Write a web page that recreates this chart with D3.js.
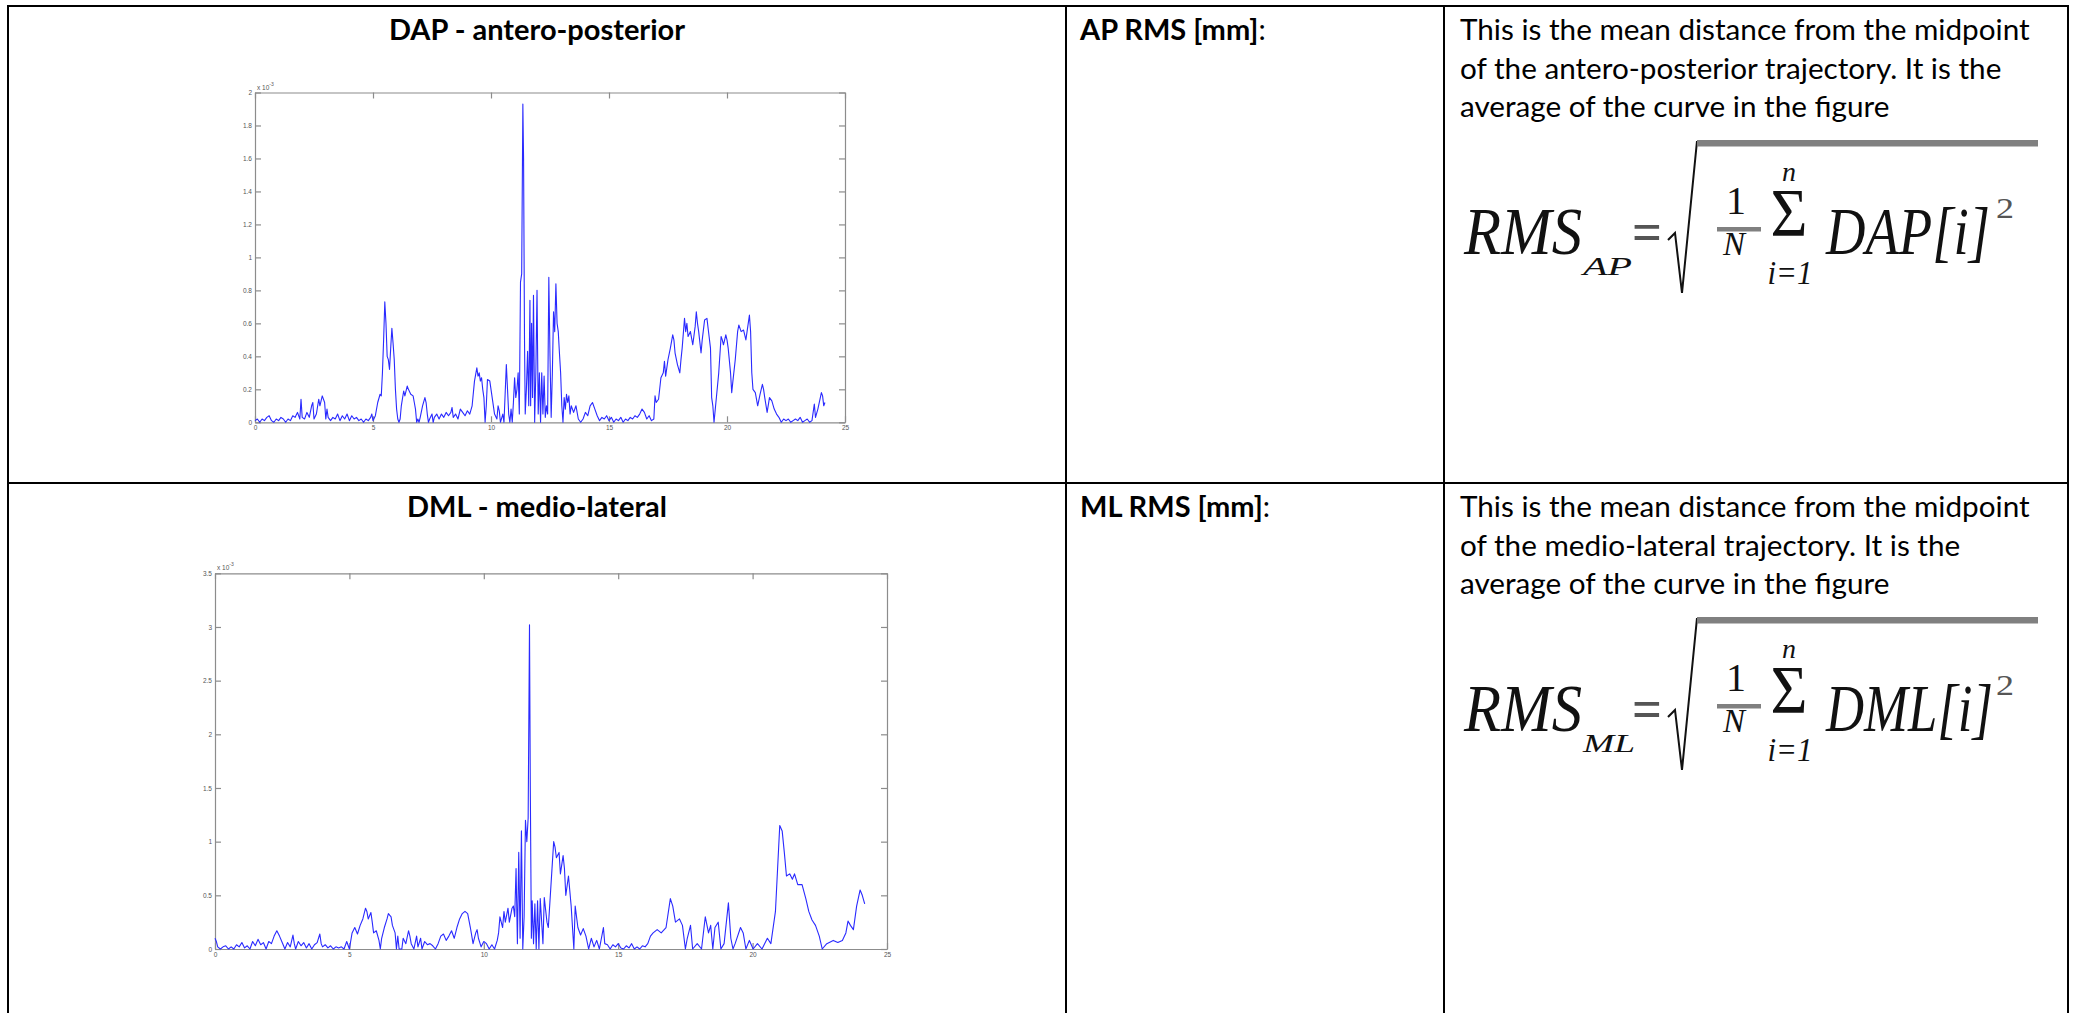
<!DOCTYPE html>
<html>
<head>
<meta charset="utf-8">
<script src="https://cdn.jsdelivr.net/npm/d3@7"></script>
<style>
  body { margin: 0; background: #fff; }
  svg { display: block; }
</style>
</head>
<body>
<svg id="page" width="2074" height="1013"></svg>
<script>
// ---- data, values in units of 10^-3 ----
var apTime = [0,0.1,0.2,0.3,0.4,0.5,0.6,0.7,0.8,0.9,1.0,1.1,1.2,1.3,1.4,1.5,1.6,1.7,1.8,1.9,1.95,2.0,2.1,2.2,2.3,2.4,2.45,2.5,2.6,2.7,2.75,2.85,2.95,3.0,3.05,3.1,3.2,3.3,3.4,3.5,3.6,3.7,3.8,3.9,4.0,4.1,4.2,4.3,4.4,4.5,4.6,4.7,4.8,4.9,4.95,5.0,5.1,5.2,5.3,5.35,5.4,5.45,5.5,5.55,5.6,5.65,5.7,5.75,5.8,5.85,5.9,5.95,6.0,6.05,6.1,6.15,6.2,6.3,6.35,6.45,6.5,6.6,6.7,6.75,6.8,6.85,6.9,6.95,7.0,7.1,7.2,7.25,7.3,7.35,7.4,7.5,7.55,7.6,7.7,7.8,7.9,8.0,8.1,8.2,8.3,8.35,8.4,8.5,8.6,8.7,8.8,8.9,9.0,9.1,9.2,9.3,9.4,9.45,9.5,9.55,9.6,9.65,9.7,9.75,9.8,9.85,9.95,10.05,10.15,10.25,10.3,10.35,10.4,10.5,10.55,10.65,10.7,10.75,10.8,10.85,10.9,10.95,11.0,11.05,11.1,11.15,11.2,11.25,11.3,11.35,11.38,11.42,11.45,11.5,11.55,11.6,11.65,11.68,11.72,11.76,11.8,11.85,11.9,11.95,12.0,12.05,12.1,12.15,12.2,12.25,12.3,12.35,12.4,12.45,12.5,12.55,12.6,12.65,12.7,12.75,12.8,12.85,12.9,12.95,13.0,13.05,13.1,13.15,13.2,13.25,13.3,13.35,13.4,13.5,13.6,13.7,13.8,13.9,14.0,14.1,14.2,14.3,14.4,14.5,14.6,14.7,14.8,14.9,15.0,15.1,15.2,15.3,15.4,15.5,15.6,15.7,15.8,15.9,16.0,16.1,16.2,16.3,16.4,16.5,16.6,16.7,16.8,16.9,16.95,17.0,17.1,17.2,17.3,17.35,17.4,17.5,17.6,17.7,17.75,17.8,17.9,18.0,18.05,18.1,18.2,18.25,18.3,18.35,18.45,18.55,18.65,18.7,18.75,18.8,18.9,18.95,19.05,19.15,19.2,19.3,19.35,19.4,19.45,19.55,19.65,19.75,19.8,19.85,19.95,20.0,20.05,20.15,20.2,20.25,20.35,20.45,20.5,20.6,20.7,20.8,20.85,20.95,21.0,21.05,21.1,21.2,21.3,21.4,21.5,21.55,21.6,21.7,21.8,21.9,22.0,22.1,22.2,22.3,22.4,22.5,22.6,22.7,22.8,22.9,23.0,23.1,23.2,23.3,23.4,23.5,23.6,23.7,23.75,23.85,24.0,24.05,24.1,24.15];
var apValue = [0.01,0.02,0.0,0.02,0.01,0.03,0.04,0.01,0.0,0.02,0.01,0.03,0.02,0.0,0.02,0.01,0.04,0.03,0.06,0.02,0.14,0.03,0.02,0.06,0.03,0.1,0.12,0.02,0.05,0.14,0.1,0.16,0.12,0.02,0.08,0.03,0.01,0.03,0.02,0.05,0.01,0.04,0.02,0.05,0.01,0.04,0.02,0.03,0.01,0.02,0.0,0.02,0.01,0.03,0.05,0.01,0.04,0.12,0.17,0.16,0.3,0.5,0.73,0.6,0.4,0.38,0.32,0.45,0.57,0.48,0.38,0.2,0.08,0.02,0.0,0.02,0.1,0.19,0.16,0.22,0.2,0.17,0.16,0.12,0.08,0.0,0.02,0.0,0.03,0.1,0.15,0.12,0.05,0.0,0.02,0.05,0.0,0.03,0.05,0.02,0.05,0.03,0.06,0.04,0.06,0.09,0.03,0.05,0.02,0.08,0.06,0.04,0.07,0.05,0.1,0.25,0.33,0.28,0.3,0.25,0.27,0.2,0.15,0.0,0.1,0.26,0.25,0.15,0.05,0.02,0.1,0.07,0.0,0.05,0.0,0.35,0.2,0.05,0.0,0.08,0.0,0.12,0.27,0.15,0.2,0.3,0.05,0.85,0.9,1.93,1.6,0.5,0.05,0.2,0.43,0.1,0.74,0.1,0.6,0.15,0.77,0.0,0.3,0.8,0.05,0.3,0.0,0.3,0.05,0.28,0.03,0.1,0.05,0.88,0.4,0.03,0.3,0.67,0.55,0.84,0.6,0.55,0.42,0.3,0.1,0.0,0.15,0.08,0.17,0.12,0.16,0.05,0.1,0.06,0.1,0.02,0.0,0.02,0.06,0.04,0.1,0.12,0.08,0.04,0.01,0.03,0.02,0.04,0.01,0.03,0.0,0.02,0.01,0.03,0.0,0.02,0.01,0.03,0.02,0.04,0.03,0.05,0.08,0.06,0.02,0.04,0.01,0.02,0.16,0.12,0.14,0.27,0.3,0.37,0.28,0.38,0.45,0.53,0.5,0.42,0.35,0.3,0.38,0.45,0.63,0.55,0.6,0.52,0.55,0.47,0.58,0.67,0.6,0.55,0.42,0.5,0.62,0.63,0.57,0.45,0.15,0.1,0.0,0.15,0.3,0.52,0.5,0.47,0.53,0.5,0.45,0.3,0.18,0.25,0.38,0.55,0.59,0.55,0.56,0.5,0.55,0.65,0.55,0.3,0.2,0.18,0.1,0.17,0.23,0.2,0.15,0.06,0.15,0.13,0.08,0.05,0.03,0.0,0.02,0.01,0.02,0.0,0.01,0.02,0.01,0.03,0.0,0.01,0.02,0.0,0.01,0.11,0.03,0.08,0.18,0.16,0.1,0.12];

var mlTime = [0,0.05,0.1,0.2,0.3,0.4,0.5,0.6,0.7,0.8,0.9,1.0,1.1,1.2,1.3,1.4,1.5,1.6,1.7,1.8,1.9,2.0,2.1,2.2,2.3,2.4,2.5,2.6,2.7,2.8,2.9,2.95,3.0,3.1,3.2,3.3,3.4,3.5,3.6,3.7,3.8,3.9,3.95,4.0,4.1,4.2,4.3,4.4,4.5,4.6,4.7,4.8,4.9,5.0,5.1,5.2,5.3,5.4,5.5,5.6,5.65,5.7,5.8,5.85,5.9,6.0,6.1,6.15,6.2,6.3,6.4,6.45,6.55,6.6,6.7,6.75,6.8,6.85,6.95,7.0,7.1,7.2,7.25,7.3,7.4,7.5,7.55,7.65,7.7,7.8,7.9,8.0,8.1,8.2,8.3,8.4,8.5,8.6,8.7,8.8,8.9,9.0,9.1,9.2,9.3,9.4,9.5,9.6,9.7,9.75,9.8,9.9,10.0,10.1,10.2,10.3,10.4,10.5,10.55,10.6,10.7,10.75,10.8,10.9,10.95,11.05,11.1,11.15,11.2,11.25,11.3,11.35,11.4,11.45,11.5,11.55,11.6,11.65,11.7,11.73,11.77,11.8,11.85,11.9,11.95,12.0,12.05,12.1,12.2,12.25,12.35,12.4,12.5,12.6,12.65,12.7,12.8,12.85,12.95,13.0,13.05,13.15,13.25,13.35,13.4,13.5,13.6,13.7,13.8,13.9,14.0,14.1,14.2,14.3,14.45,14.5,14.6,14.7,14.8,14.9,15.0,15.1,15.2,15.3,15.4,15.5,15.6,15.7,15.8,15.9,16.0,16.1,16.2,16.3,16.45,16.6,16.78,16.94,17.03,17.13,17.28,17.39,17.5,17.57,17.69,17.77,17.94,18.1,18.24,18.36,18.44,18.52,18.6,18.72,18.82,18.94,19.1,19.19,19.27,19.35,19.55,19.65,19.75,19.88,20.02,20.18,20.35,20.55,20.68,20.85,20.93,21.01,21.1,21.18,21.26,21.38,21.48,21.56,21.68,21.84,21.98,22.09,22.21,22.34,22.48,22.59,22.76,23.0,23.17,23.34,23.47,23.55,23.64,23.75,23.87,24.0,24.08,24.17];
var mlValue = [0.1,0.07,0.02,0.0,0.02,0.03,0.0,0.02,0.0,0.04,0.02,0.06,0.01,0.03,0.0,0.07,0.03,0.09,0.04,0.06,0.0,0.07,0.05,0.12,0.17,0.12,0.06,0.0,0.06,0.02,0.13,0.05,0.0,0.07,0.03,0.06,0.01,0.05,0.0,0.04,0.06,0.14,0.05,0.02,0.04,0.01,0.03,0.0,0.02,0.01,0.02,0.0,0.07,0.0,0.15,0.2,0.14,0.22,0.28,0.38,0.35,0.28,0.34,0.25,0.15,0.17,0.08,0.0,0.1,0.2,0.28,0.33,0.3,0.22,0.15,0.0,0.12,0.0,0.0,0.1,0.05,0.17,0.12,0.05,0.0,0.12,0.02,0.1,0.0,0.07,0.04,0.05,0.03,0.0,0.05,0.12,0.14,0.08,0.12,0.17,0.1,0.2,0.28,0.33,0.35,0.33,0.2,0.05,0.15,0.18,0.1,0.02,0.07,0.05,0.0,0.04,0.0,0.08,0.15,0.3,0.2,0.35,0.25,0.38,0.25,0.38,0.4,0.3,0.75,0.05,0.9,0.1,1.1,0.0,0.3,1.2,1.0,1.22,3.02,1.5,0.1,0.45,0.05,0.42,0.0,0.45,0.0,0.47,0.05,0.48,0.25,0.2,0.6,1.0,0.95,0.85,0.9,0.7,0.87,0.75,0.5,0.68,0.4,0.0,0.4,0.2,0.13,0.19,0.12,0.0,0.1,0.02,0.08,0.0,0.2,0.05,0.04,0.0,0.04,0.02,0.05,0.01,0.0,0.03,0.01,0.05,0.0,0.02,0.0,0.03,0.02,0.05,0.12,0.15,0.18,0.15,0.2,0.47,0.4,0.25,0.28,0.22,0.0,0.1,0.22,0.0,0.05,0.0,0.3,0.15,0.22,0.0,0.2,0.25,0.0,0.05,0.43,0.1,0.0,0.05,0.2,0.15,0.0,0.08,0.0,0.05,0.0,0.1,0.05,0.35,0.75,1.15,1.1,0.9,0.68,0.7,0.65,0.7,0.6,0.6,0.47,0.35,0.27,0.22,0.12,0.0,0.05,0.08,0.06,0.08,0.15,0.26,0.22,0.18,0.4,0.55,0.5,0.42];

var xTicks = [0, 5, 10, 15, 20, 25];
var apTicks = [0, 0.2, 0.4, 0.6, 0.8, 1, 1.2, 1.4, 1.6, 1.8, 2];
var mlTicks = [0, 0.5, 1, 1.5, 2, 2.5, 3, 3.5];

var rowTitles = ["DAP - antero-posterior", "DML - medio-lateral"];
var rowLabels = ["AP RMS [mm]", "ML RMS [mm]"];
var rowText = [
  ["This is the mean distance from the midpoint",
   "of the antero-posterior trajectory. It is the",
   "average of the curve in the figure"],
  ["This is the mean distance from the midpoint",
   "of the medio-lateral trajectory. It is the",
   "average of the curve in the figure"]
];
var rowSub = ["AP", "ML"];
var rowSym = ["DAP[i]", "DML[i]"];

// ---- layout ----
var svg = d3.select("#page");
var textFont = "Lato, 'Open Sans', sans-serif";
var mathFont = "'Liberation Serif', 'DejaVu Serif', serif";

var colX = [8, 1066, 1444, 2068];
var rowY = [6, 483, 1020];

svg.append("rect").attr("width", 2074).attr("height", 1013).attr("fill", "#fff");

// measure a string at 100px and scale to a target width
function fitSize(str, weight, target) {
  var t = svg.append("text").attr("font-family", textFont)
    .attr("font-weight", weight).attr("font-size", 100).text(str);
  var w = t.node().getComputedTextLength();
  t.remove();
  return 100 * target / w;
}
var bodySize = fitSize(rowText[0][0], "normal", 570);
var labelSize = fitSize(rowLabels[0] + ":", "bold", 186);

// table grid
var grid = svg.append("g").attr("fill", "#000");
colX.forEach(function (x) {
  grid.append("rect").attr("x", x - 1).attr("y", rowY[0] - 1)
    .attr("width", 2).attr("height", 1013);
});
rowY.slice(0, 2).forEach(function (y) {
  grid.append("rect").attr("x", colX[0] - 1).attr("y", y - 1)
    .attr("width", colX[3] - colX[0] + 2).attr("height", 2);
});

// charts
var boxes = [
  { x0: 255, x1: 845, y0: 92.5, y1: 422.3 },
  { x0: 215, x1: 887, y0: 573.3, y1: 949 }
];

function drawChart(box, times, values, yMax, yTicks) {
  var x = d3.scaleLinear().domain([0, 25]).range([box.x0, box.x1]);
  var y = d3.scaleLinear().domain([0, yMax]).range([box.y1, box.y0]);
  var g = svg.append("g");
  var fmt = d3.format("~g");

  g.append("g").attr("transform", "translate(0," + box.y1 + ")")
    .call(d3.axisBottom(x).tickValues(xTicks).tickSize(-6).tickSizeOuter(0).tickPadding(3).tickFormat(fmt));
  g.append("g").attr("transform", "translate(0," + box.y0 + ")")
    .call(d3.axisTop(x).tickValues(xTicks).tickSize(-6).tickSizeOuter(0).tickFormat(""));
  g.append("g").attr("transform", "translate(" + box.x0 + ",0)")
    .call(d3.axisLeft(y).tickValues(yTicks).tickSize(-6).tickSizeOuter(0).tickPadding(3).tickFormat(fmt));
  g.append("g").attr("transform", "translate(" + box.x1 + ",0)")
    .call(d3.axisRight(y).tickValues(yTicks).tickSize(-6).tickSizeOuter(0).tickFormat(""));

  g.selectAll(".domain, .tick line").attr("stroke", "#8c8c8c").attr("stroke-width", 1.2);
  g.selectAll(".tick text").attr("fill", "#555").attr("font-size", 6.5)
    .attr("font-family", "'Liberation Sans', sans-serif");

  // exponent label
  var ex = g.append("text").attr("x", box.x0 + 2).attr("y", box.y0 - 3)
    .attr("font-family", "'Liberation Sans', sans-serif").attr("font-size", 6.5).attr("fill", "#555")
    .text("x 10");
  ex.append("tspan").attr("dy", -4).attr("font-size", 5).text("-3");

  var pts = times.map(function (t, i) { return [t, values[i]]; });
  g.append("path").datum(pts)
    .attr("fill", "none").attr("stroke", "#2a2aff").attr("stroke-width", 1.1)
    .attr("stroke-linejoin", "round")
    .attr("d", d3.line().x(function (d) { return x(d[0]); }).y(function (d) { return y(d[1]); }));
}

drawChart(boxes[0], apTime, apValue, 2, apTicks);
drawChart(boxes[1], mlTime, mlValue, 3.5, mlTicks);

// texts and formulas per row
function drawRow(r) {
  var top = rowY[r];
  var g = svg.append("g").attr("transform", "translate(0," + (top - 6) + ")");
  var base = 40;

  g.append("text").attr("x", (colX[0] + colX[1]) / 2).attr("y", base)
    .attr("text-anchor", "middle").attr("font-family", textFont)
    .attr("font-weight", "bold").attr("font-size", labelSize).attr("fill", "#000")
    .text(rowTitles[r]);

  var lab = g.append("text").attr("x", 1080).attr("y", base)
    .attr("font-family", textFont).attr("font-size", labelSize).attr("fill", "#000");
  lab.append("tspan").attr("font-weight", "bold").text(rowLabels[r]);
  lab.append("tspan").text(":");

  rowText[r].forEach(function (line, i) {
    g.append("text").attr("x", 1460).attr("y", base + i * 38.5)
      .attr("font-family", textFont).attr("font-size", bodySize).attr("fill", "#000")
      .text(line);
  });

  // RMS formula
  var f = g.append("g").attr("fill", "#111").attr("font-family", mathFont);
  function mt(str, x, y, size, italic, len, anchor) {
    var t = f.append("text").attr("x", x).attr("y", y).attr("font-size", size)
      .attr("font-style", italic ? "italic" : "normal")
      .attr("text-anchor", anchor || "start").text(str);
    if (len) t.attr("textLength", len).attr("lengthAdjust", "spacingAndGlyphs");
    return t;
  }
  mt("RMS", 1464, 254, 68, true, 118);
  mt(rowSub[r], 1583, 275, 25, true, r === 0 ? 49 : 52);
  mt("=", 1632, 250, 54, false, 30).attr("font-weight", "bold").attr("fill", "#555");
  f.append("path").attr("d", "M1668,240 L1675,233 L1682,293 L1697,141")
    .attr("fill", "none").attr("stroke", "#111").attr("stroke-width", 2);
  f.append("rect").attr("x", 1697).attr("y", 140).attr("width", 341).attr("height", 6.5).attr("fill", "#808080");
  mt("1", 1736, 214, 40, false, 0, "middle");
  f.append("rect").attr("x", 1717).attr("y", 227).attr("width", 44).attr("height", 4.5).attr("fill", "#808080");
  mt("N", 1734, 255, 33, true, 0, "middle");
  mt("\u03A3", 1789, 235, 68, false, 37, "middle");
  mt("n", 1789, 181, 28, true, 0, "middle");
  mt("i=1", 1790, 284, 33, true, 45, "middle");
  mt(rowSym[r], 1826, 254, 68, true, r === 0 ? 164 : 167);
  mt("2", 1996, 218, 30, false, 18).attr("fill", "#555");
}
drawRow(0);
drawRow(1);
</script>
</body>
</html>
